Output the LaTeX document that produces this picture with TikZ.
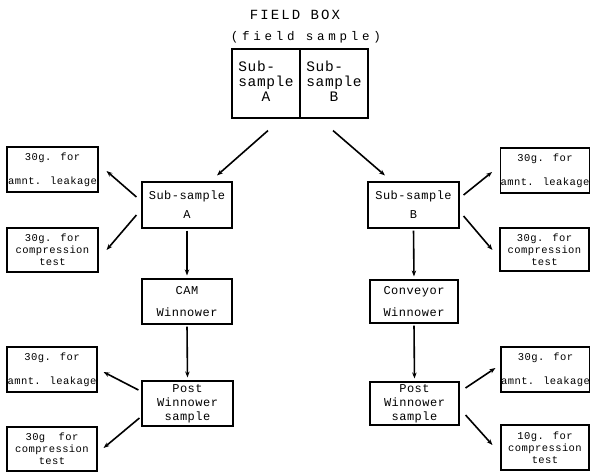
\documentclass[tikz,border=0pt]{standalone}
\usepackage{fontspec}
\setmonofont{Liberation Mono}
\newfontfamily\plotfont[LetterSpace=4]{Liberation Mono}
\newfontfamily\titlefont[LetterSpace=15]{Liberation Mono}
\newfontfamily\widefont[LetterSpace=30]{Liberation Mono}
\usetikzlibrary{arrows.meta,calc}
\tikzset{
  box/.style={draw, line width=1.1pt, inner sep=0pt, align=center, font=\plotfont\fontsize{10.5}{12}\selectfont},
  sidebox/.style={box, minimum width=90pt, minimum height=45pt},
  midbox/.style={box, minimum width=90pt, minimum height=45pt, font=\plotfont\fontsize{12}{14}\selectfont},
  cell/.style={draw, line width=1.1pt, inner sep=0pt, minimum width=68pt, minimum height=69pt, font=\plotfont\fontsize{14.5}{16}\selectfont},
  arr/.style={line width=1.6pt, -{Stealth[length=6pt,width=4.5pt]}},
  title/.style={inner sep=0pt}
}
\begin{document}
\begin{tikzpicture}[x=1pt,y=-1pt]
\useasboundingbox (0,0) rectangle (590,472);
\node[title, font=\titlefont\fontsize{14}{16}\selectfont] (t1) at (295,15) {FIELD BOX};
\node[title, font=\widefont\fontsize{12.5}{14}\selectfont] (t2) at (306,37) {(field sample)};
\node[cell] (fA) at (266,83.5) {\begin{tabular}{@{}l@{}}Sub-\\[-1pt]sample\\[-1pt]\multicolumn{1}{@{}c@{}}{A}\end{tabular}};
\node[cell] (fB) at (334,83.5) {\begin{tabular}{@{}l@{}}Sub-\\[-1pt]sample\\[-1pt]\multicolumn{1}{@{}c@{}}{B}\end{tabular}};

\node[sidebox, minimum width=91pt] (LA1) at (52.5,169.5) {30g. for\\[12pt]amnt. leakage};
\node[sidebox, minimum width=91pt, minimum height=44pt] (LA2) at (52.5,250) {30g. for\\compression\\test};
\node[sidebox] (LA3) at (52,369.5) {30g. for\\[12pt]amnt. leakage};
\node[sidebox, minimum height=44pt] (LA4) at (52,449) {30g\ \ for\\compression\\test};

\node[sidebox, minimum width=88pt] (RB1) at (545,170.5) {30g. for\\[12pt]amnt. leakage};
\node[sidebox, minimum width=89pt, minimum height=43pt] (RB2) at (544.5,249.5) {30g. for\\compression\\test};
\node[sidebox, minimum width=89pt] (RB3) at (545.5,369.5) {30g. for\\[12pt]amnt. leakage};
\node[sidebox, minimum width=88pt] (RB4) at (545,447.5) {10g. for\\compression\\test};

\node[midbox, minimum height=46pt] (SA) at (187,205) {Sub-sample\\[5pt]A};
\node[midbox, minimum width=91pt, minimum height=46pt] (SB) at (413.5,205) {Sub-sample\\[5pt]B};
\node[midbox] (CAM) at (187,301.5) {CAM\\[8pt]Winnower};
\node[midbox, minimum width=88pt, minimum height=43pt] (CV) at (414,301.5) {Conveyor\\[8pt]Winnower};
\node[midbox, minimum width=91pt] (PA) at (187.5,403.5) {Post\\Winnower\\sample};
\node[midbox, minimum width=89pt, minimum height=43pt] (PB) at (414.5,403.5) {Post\\Winnower\\sample};

\draw[arr] ($(fA.south)+(2,12)$) -- ($(SA.north)+(30,-6)$);
\draw[arr] ($(fB.south)+(-1,12)$) -- ($(SB.north)+(-28.5,-6)$);
\draw[arr] ($(SA.west)+(-5,-8)$) -- ($(LA1.east)+(8,1.5)$);
\draw[arr] ($(SA.west)+(-5,10)$) -- ($(LA2.east)+(8,0)$);
\draw[arr, shorten <=2pt, shorten >=3pt] (SA.south) -- (CAM.north);
\draw[arr, shorten <=2pt, shorten >=3pt] (CAM.south) -- (PA.north);
\draw[arr] ($(PA.west)+(-3,-13.5)$) -- ($(LA3.east)+(6,2.5)$);
\draw[arr] ($(PA.west)+(-2,14.5)$) -- ($(LA4.east)+(6,-1)$);
\draw[arr] ($(SB.east)+(4,-10)$) -- ($(RB1.west)+(-8,1.5)$);
\draw[arr] ($(SB.east)+(4,11)$) -- ($(RB2.west)+(-7,0.5)$);
\draw[arr, shorten <=2pt, shorten >=3pt] (SB.south) -- (CV.north);
\draw[arr, shorten <=2pt, shorten >=3pt] (CV.south) -- (PB.north);
\draw[arr] ($(PB.east)+(6,-15.5)$) -- ($(RB3.west)+(-5,-1.5)$);
\draw[arr] ($(PB.east)+(6,11.5)$) -- ($(RB4.west)+(-8,-2.5)$);
\end{tikzpicture}
\end{document}
